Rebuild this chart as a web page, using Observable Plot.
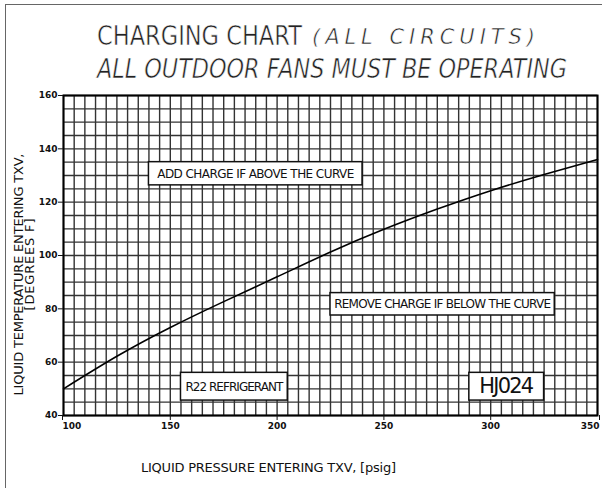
<!DOCTYPE html>
<html><head><meta charset="utf-8">
<script src="https://cdn.jsdelivr.net/npm/d3@7"></script>
<script src="https://cdn.jsdelivr.net/npm/@observablehq/plot@0.6"></script>
<style>
body{margin:0;background:#fff;overflow:hidden;}
#wrap{position:relative;width:602px;height:488px;overflow:hidden;background:#fff;}
#border{position:absolute;left:5px;top:4px;width:700px;height:700px;border:1.5px solid #666;box-sizing:border-box;}
#title{position:relative;height:88px;font-family:"Liberation Sans Narrow","DejaVu Sans",sans-serif;color:#222;}
.t{position:absolute;white-space:nowrap;line-height:1;font-weight:normal;-webkit-text-stroke:0.6px #fff;}
#chart svg{display:block;position:relative;}
</style></head>
<body><div id="wrap"><div id="border"></div>
<div id="title">
  <span class="t" id="t1">CHARGING CHART</span>
  <span class="t" id="t1b"><i>(ALL CIRCUITS)</i></span>
  <span class="t" id="t2"><i>ALL OUTDOOR FANS MUST BE OPERATING</i></span>
</div>
<div id="chart"></div></div>
<script>
// ---- data ----
const pressure   = [100, 125, 150, 175, 200, 225, 250, 275, 300, 325, 350];
const liquidTemp = [50, 62.2, 73, 82.7, 92, 101.3, 109.8, 117.4, 124.3, 130.4, 136];
const xTicks = [100, 150, 200, 250, 300, 350];
const yTicks = [40, 60, 80, 100, 120, 140, 160];
const noteText = ["ADD CHARGE IF ABOVE THE CURVE", "REMOVE CHARGE IF BELOW THE CURVE", "R22 REFRIGERANT", "HJ024"];
const noteX1 = [140, 225, 155, 290];
const noteX2 = [240, 330, 205, 325];
const noteY1 = [126.3, 77.5, 45.6, 45.6];
const noteY2 = [135, 85.9, 56, 56];
const xLabel = "LIQUID PRESSURE ENTERING TXV, [psig]";
const yLabel1 = "LIQUID TEMPERATURE ENTERING TXV,";
const yLabel2 = "[DEGREES F]";

const curve = pressure.map((p, i) => ({p, t: liquidTemp[i]}));
const notes = noteText.map((text, i) => ({text, x1: noteX1[i], x2: noteX2[i], y1: noteY1[i], y2: noteY2[i]}));
const gridX = d3.range(100, 351, 5);
const gridY = d3.range(40, 161, 5);

// ---- title fitting ----
function place(id, left, baseline, size, width) {
  const el = document.getElementById(id);
  el.style.fontSize = size + "px";
  el.style.left = left + "px";
  el.style.top = (baseline - 0.8465 * size) + "px";
  const w = el.getBoundingClientRect().width;
  const n = el.textContent.length;
  if (w < width) el.style.letterSpacing = ((width - w) / n) + "px";
  else { el.style.transformOrigin = "left"; el.style.transform = `scaleX(${width / w})`; }
}
place("t1", 97, 45, 27, 205);
place("t1b", 312, 45, 21, 228);
place("t2", 97, 78, 27, 470);

const font = "'Liberation Sans Narrow', 'DejaVu Sans', sans-serif";
const axisStyle = {tickSize: 5, fontWeight: "bold", label: null};
const chart = Plot.plot({
  width: 602, height: 400,
  marginLeft: 63, marginRight: 5, marginTop: 7, marginBottom: 73,
  style: {fontFamily: font, fontSize: "9px", color: "#111", background: "transparent"},
  x: {domain: [100, 350]},
  y: {domain: [40, 160]},
  marks: [
    Plot.ruleX(gridX, {stroke: "#333", strokeWidth: 1.4}),
    Plot.ruleY(gridY, {stroke: "#333", strokeWidth: 1.4}),
    Plot.rect(notes, {x1: "x1", x2: "x2", y1: "y1", y2: "y2", fill: "white", stroke: "#111", strokeWidth: 1.5}),
    Plot.text(notes, {x: d => (d.x1 + d.x2) / 2, y: d => (d.y1 + d.y2) / 2, text: "text",
      fontSize: d => d.text === "HJ024" ? 21 : 12, fill: "#111"}),
    Plot.line(curve, {x: "p", y: "t", curve: "natural", stroke: "#000", strokeWidth: 1.6}),
    Plot.frame({stroke: "#000", strokeWidth: 2}),
    Plot.axisX(xTicks.slice(0, 1), {...axisStyle, tickPadding: 2, textAnchor: "start", dx: -1}),
    Plot.axisX(xTicks.slice(1, -1), {...axisStyle, tickPadding: 2}),
    Plot.axisX(xTicks.slice(-1), {...axisStyle, tickPadding: 2, textAnchor: "end", dx: 2}),
    Plot.axisY(yTicks, {...axisStyle, tickPadding: 1}),
    Plot.text([xLabel], {frameAnchor: "bottom", lineAnchor: "middle", textAnchor: "middle", dx: -62, dy: 52, fontSize: 13, fill: "#111"}),
    Plot.text([yLabel1], {frameAnchor: "left", rotate: -90, lineAnchor: "middle", textAnchor: "middle", dx: -45, dy: 19, fontSize: 13, fill: "#111"}),
    Plot.text([yLabel2], {frameAnchor: "left", rotate: -90, lineAnchor: "middle", textAnchor: "middle", dx: -34, dy: 9, fontSize: 13, fill: "#111"})
  ]
});
document.getElementById("chart").appendChild(chart);

// stretch texts to the widths seen in the reference
const widths = {
  "ADD CHARGE IF ABOVE THE CURVE": 197,
  "REMOVE CHARGE IF BELOW THE CURVE": 217,
  "R22 REFRIGERANT": 98,
  "HJ024": 55,
  [xLabel]: 255,
  [yLabel1]: 242,
  [yLabel2]: 92
};
chart.querySelectorAll("text").forEach(t => {
  const w = widths[t.textContent];
  if (w) { t.setAttribute("textLength", w); t.setAttribute("lengthAdjust", "spacing"); }
});
</script>
</body></html>
